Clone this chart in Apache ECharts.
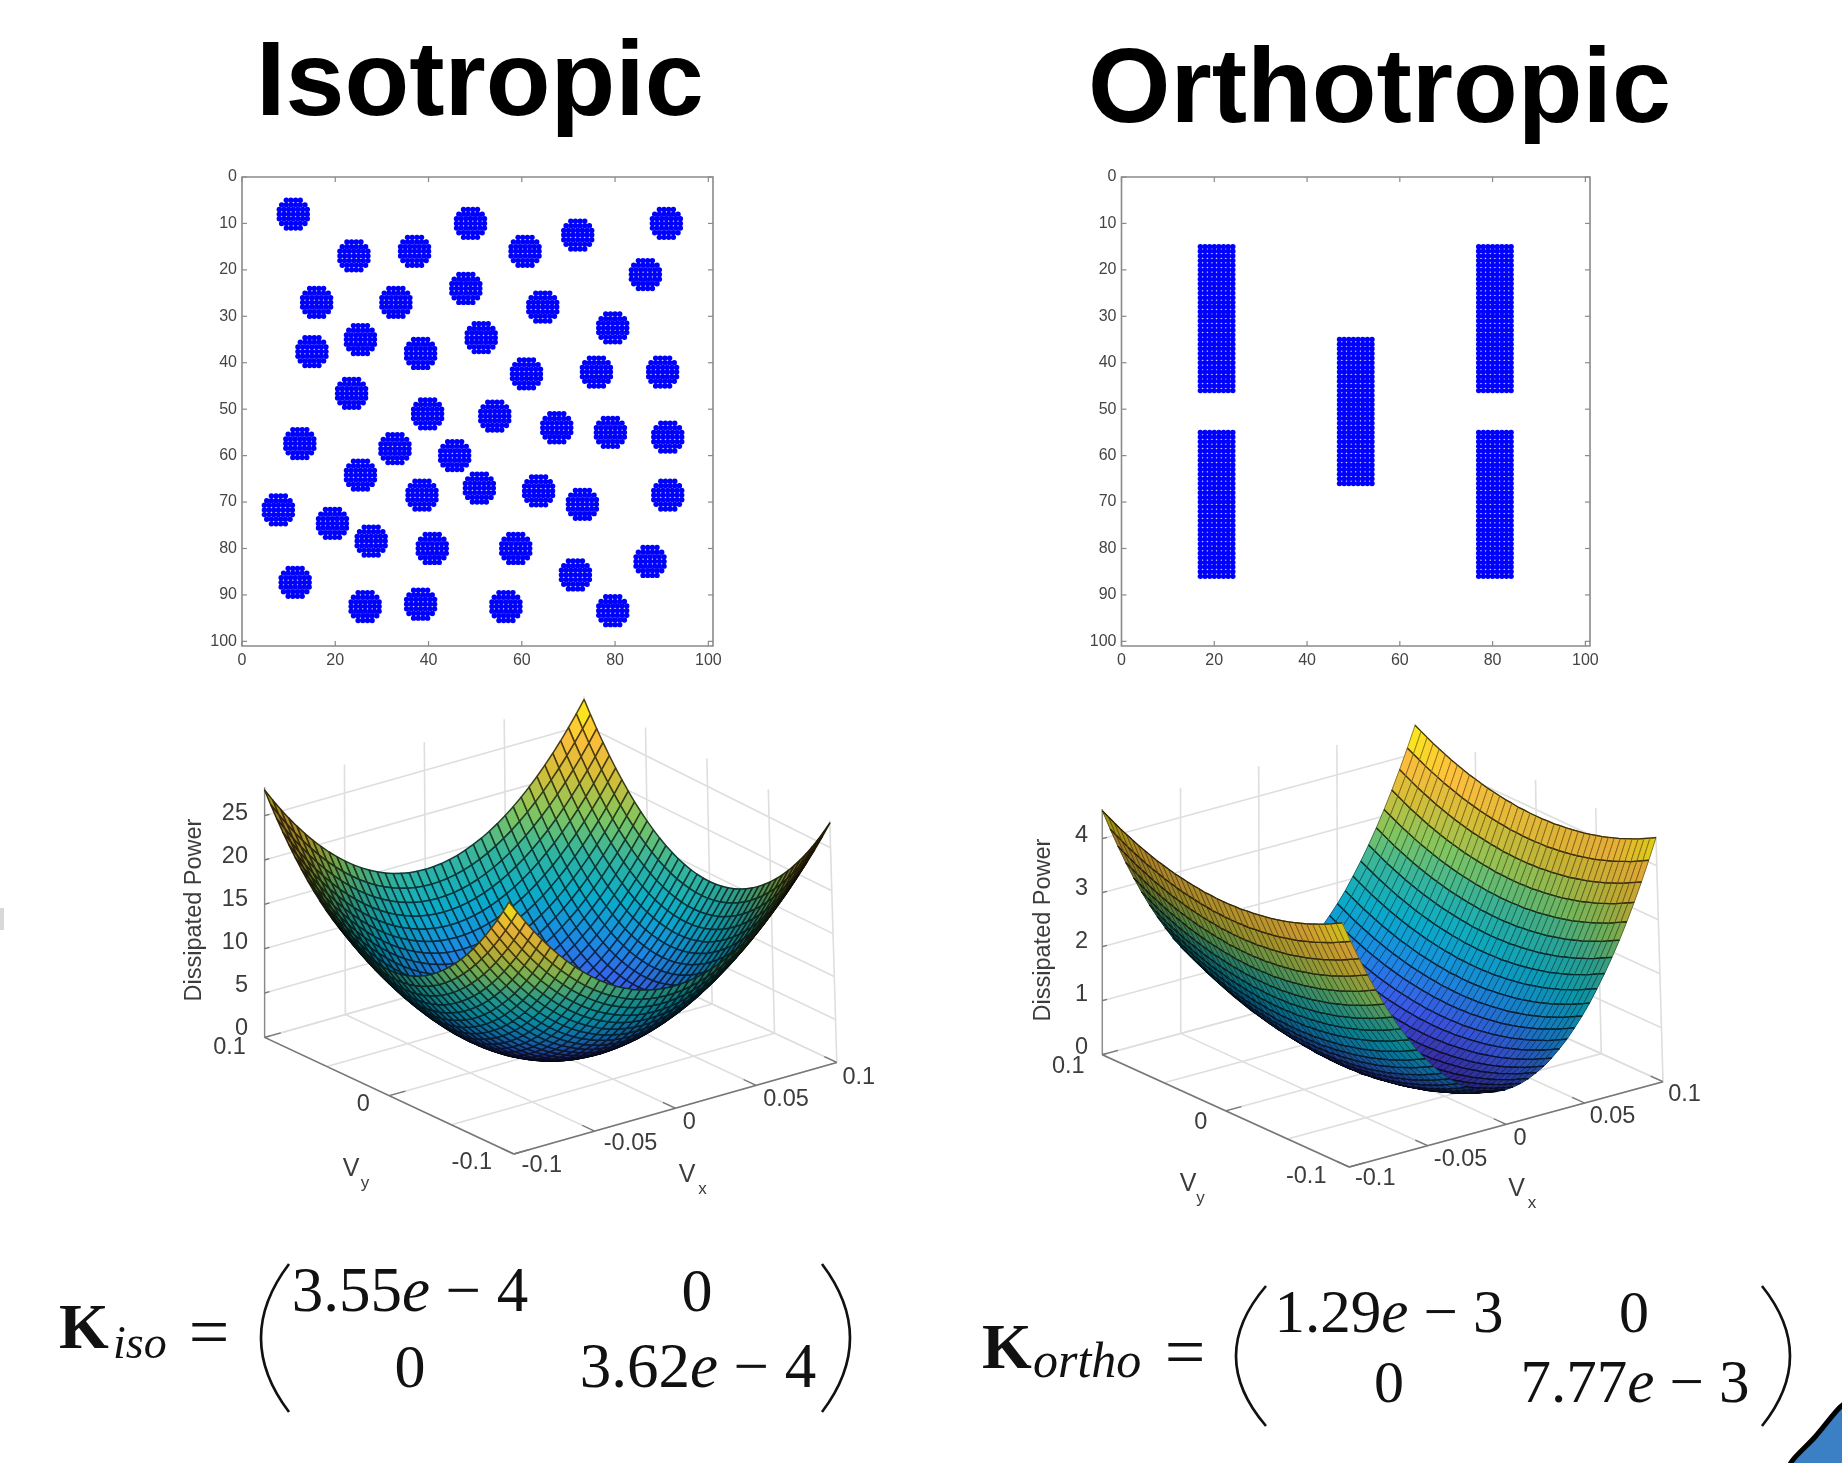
<!DOCTYPE html>
<html><head><meta charset="utf-8"><title>Isotropic vs Orthotropic</title>
<style>html,body{margin:0;padding:0;background:#fff;overflow:hidden}#chart{width:1842px;height:1463px;filter:blur(0.5px)}</style>
<script src="https://cdn.jsdelivr.net/npm/echarts@6/dist/echarts.min.js"></script>
</head><body><div id="chart"></div>
<script>
// ---------- data ----------
const topTitles = ['Isotropic', 'Orthotropic'];
const mapTicksX = [0, 20, 40, 60, 80, 100];
const mapTicksY = [0, 10, 20, 30, 40, 50, 60, 70, 80, 90, 100];
const isoInclusionCentres = [
  [11,8],[49,10],[72,12.5],[91,10],[24,17],[37,16],[60.7,16],[86.5,21],[16,27],[33,27],[48,24],[64.5,28],
  [79.5,32.5],[15,37.6],[25.4,35],[38.3,38],[51.3,34.6],[61,42.4],[76,42],[90.2,42],[23.5,46.6],[39.8,51],
  [54.2,51.5],[67.5,54],[79,55],[91.3,56],[12.4,57.4],[32.8,58.5],[45.6,60],[25.4,64.2],[50.9,67],[38.6,68.5],
  [63.6,67.6],[73,70.5],[91.3,68.5],[7.8,71.7],[19.4,74.6],[27.7,78.4],[40.8,80],[58.7,80],[87.5,82.8],
  [71.5,85.7],[11.4,87.3],[26.4,92.5],[38.3,92],[56.6,92.5],[79.5,93.4]
];
const inclusionRowHalfWidths = [1.5, 2.5, 3, 3, 3, 2.5, 1.5];
// [xFrom, xTo, yFrom, yTo]
const orthoInclusionBlocks = [
  [17,24,15,46],[17,24,55,86],[47,54,35,66],[77,84,15,46],[77,84,55,86]
];
// power contribution at |v| = 0, 0.005, ... 0.1
const speedSteps = [0,0.005,0.01,0.015,0.02,0.025,0.03,0.035,0.04,0.045,0.05,0.055,0.06,0.065,0.07,0.075,0.08,0.085,0.09,0.095,0.1];
const isoPowerVx = [0,0.04,0.14,0.32,0.56,0.88,1.27,1.72,2.25,2.85,3.52,4.26,5.07,5.95,6.90,7.92,9.01,10.17,11.40,12.71,14.08];
const isoPowerVy = [0,0.03,0.14,0.31,0.55,0.86,1.24,1.69,2.21,2.80,3.45,4.18,4.97,5.83,6.77,7.77,8.84,9.98,11.19,12.46,13.81];
const orthoPowerVx = [0,0.01,0.04,0.09,0.16,0.24,0.35,0.48,0.62,0.79,0.97,1.17,1.40,1.64,1.90,2.18,2.48,2.80,3.14,3.50,3.88];
const orthoPowerVy = [0,0.00,0.01,0.01,0.03,0.04,0.06,0.08,0.10,0.13,0.16,0.19,0.23,0.27,0.31,0.36,0.41,0.46,0.52,0.58,0.64];
const vxTicks = [-0.1,-0.05,0,0.05,0.1];
const vxTickLabels = ['-0.1','-0.05','0','0.05','0.1'];
const vyGridTicks = [-0.1,-0.05,0,0.05,0.1];
const vyTicks = [-0.1,0,0.1];
const vyTickLabels = ['-0.1','0','0.1'];
const isoPowerTicks = [0,5,10,15,20,25];
const orthoPowerTicks = [0,1,2,3,4];

// ---------- styling / layout ----------
const SANS = '"Liberation Sans", Arial, sans-serif';
const SERIF = '"Liberation Serif", "Times New Roman", serif';
const parulaStops = [[0,[62,38,168]],[.125,[60,90,235]],[.25,[25,140,225]],[.375,[10,172,200]],[.5,[50,180,160]],[.625,[128,198,95]],[.75,[212,190,55]],[.875,[253,190,60]],[1,[249,251,14]]];
const panels = [
  {L:[264.6,1037.4],F:[513.8,1154],R:[836.8,1062.4],zPx:8.87,zTop:28.2,powerVx:isoPowerVx,powerVy:isoPowerVy,zMax:27.9,zTicks:isoPowerTicks,
   topWarp:{F:[-4.7,-4.7],R:[-7,8],B:[-3.5,1]},zLabelOff:[-9,-2],
   weakMix:0.68,weakWidth:1.5,strongMix:0,labelRight:248,
   vxOff:[[28,12],[36,12],[14,14],[30,14],[22,15]],vyOff:[[-42,9],[-26,9],[-35,10]],
   ylabel:[195,910],vy:[[351,1169],[365,1183]],vx:[[687,1175],[702.5,1189]]},
  {L:[1102.3,1054.7],F:[1349.2,1167],R:[1663,1081.7],zPx:54,zTop:4.55,powerVx:orthoPowerVx,powerVy:orthoPowerVy,zMax:4.52,zTicks:orthoPowerTicks,
   topWarp:{F:[-7,0],R:[-7,0],B:[-1,0]},zLabelOff:[-7,-3],
   weakMix:0.4,weakWidth:1,strongMix:0.75,labelRight:1088,
   vxOff:[[26,12],[33,14],[14,14],[28,13],[21.5,13]],vyOff:[[-43,10],[-25,12],[-34,12]],
   ylabel:[1044,930],vy:[[1188,1184],[1200.5,1198]],vx:[[1516.5,1189],[1532,1203]]}
];
const OVERLAY_AXIS = 2;
const MAP_MAX = 101;

// ---------- helpers ----------
function parula(t){
  t=Math.max(0,Math.min(1,t));
  for(let k=1;k<parulaStops.length;k++){
    if(t<=parulaStops[k][0]){
      const [t0,c0]=parulaStops[k-1],[t1,c1]=parulaStops[k],f=(t-t0)/(t1-t0);
      return c0.map((c,n)=>c+(c1[n]-c)*f);
    }
  }
  return parulaStops[parulaStops.length-1][1];
}
const css=c=>`rgb(${c.map(v=>Math.round(Math.min(255,Math.max(0,v)))).join(',')})`;
const mesh=[...speedSteps.slice(1).reverse().map(v=>-v),...speedSteps];
const HALF=speedSteps.length-1;

function mapPoints(){
  const iso=[];
  isoInclusionCentres.forEach(([cx,cy])=>{
    inclusionRowHalfWidths.forEach((hw,r)=>{
      for(let dx=-hw;dx<=hw;dx++) iso.push([cx+dx,cy+r-3]);
    });
  });
  const ortho=[];
  orthoInclusionBlocks.forEach(([x0,x1,y0,y1])=>{
    for(let x=x0;x<=x1;x++)for(let y=y0;y<=y1;y++)ortho.push([x,y]);
  });
  return [iso,ortho];
}

function buildPanel(p){
  const ax=p.R[0]-p.F[0],ay=p.R[1]-p.F[1],bx=p.L[0]-p.F[0],by=p.L[1]-p.F[1];
  const len=Math.hypot(ax,bx),cosA=ax/len,sinA=-bx/len;
  const sinEl=(-ay-by)/((sinA+cosA)*len),cosEl=Math.sqrt(1-sinEl*sinEl);
  const view=[-sinA*cosEl,-cosA*cosEl,sinEl];
  const proj=(vx,vy,z)=>{
    const u=(vx+0.1)/0.2,w=(vy+0.1)/0.2,h=z/p.zMax;
    const warp=n=>h*((1-u)*(1-w)*p.topWarp.F[n]+u*(1-w)*p.topWarp.R[n]+u*w*p.topWarp.B[n]);
    return [p.F[0]+u*ax+w*bx+warp(0),p.F[1]+u*ay+w*by-z*p.zPx+warp(1)];
  };
  const world=(vx,vy,z)=>[(vx+0.1)/0.2*len,(vy+0.1)/0.2*len,z*p.zPx/cosEl];
  const power=(i,j)=>p.powerVx[Math.abs(i-HALF)]+p.powerVy[Math.abs(j-HALF)];

  // back walls, floor, axes
  const back=[],labels=[];
  const seg=(a,b,stroke,w)=>({t:'line',a,b,stroke,w});
  const wall='#dedede',axis='#777';
  vxTicks.forEach(v=>{
    back.push(seg(proj(v,-0.1,0),proj(v,0.1,0),wall,1.6));
    back.push(seg(proj(v,0.1,0),proj(v,0.1,p.zTop),wall,1.6));
  });
  vyGridTicks.forEach(v=>{
    back.push(seg(proj(-0.1,v,0),proj(0.1,v,0),wall,1.6));
    back.push(seg(proj(0.1,v,0),proj(0.1,v,p.zTop),wall,1.6));
  });
  p.zTicks.forEach(z=>{
    back.push(seg(proj(-0.1,0.1,z),proj(0.1,0.1,z),wall,1.6));
    back.push(seg(proj(0.1,0.1,z),proj(0.1,-0.1,z),wall,1.6));
  });
  back.push(seg(proj(-0.1,0.1,0),proj(-0.1,-0.1,0),axis,1.6));
  back.push(seg(proj(-0.1,-0.1,0),proj(0.1,-0.1,0),axis,1.6));
  back.push(seg(proj(-0.1,0.1,0),proj(-0.1,0.1,p.zTop),'#888',1.3));
  vxTicks.forEach(v=>back.push(seg(proj(v,-0.1,0),proj(v,-0.09,0),axis,1.3)));
  vyTicks.forEach(v=>back.push(seg(proj(-0.1,v,0),proj(-0.09,v,0),axis,1.3)));
  p.zTicks.forEach(z=>back.push(seg(proj(-0.1,0.1,z),proj(-0.097,0.1,z),axis,1.3)));

  // surface quads, far ones first
  const quads=[];
  for(let i=0;i<mesh.length-1;i++)for(let j=0;j<mesh.length-1;j++){
    const c=[[i,j],[i+1,j],[i+1,j+1],[i,j+1]].map(([a,b])=>({a,v:[mesh[a],mesh[b],power(a,b)]}));
    const W=c.map(o=>world(...o.v));
    const d1=W[2].map((x,n)=>x-W[0][n]),d2=W[3].map((x,n)=>x-W[1][n]);
    let nrm=[d1[1]*d2[2]-d1[2]*d2[1],d1[2]*d2[0]-d1[0]*d2[2],d1[0]*d2[1]-d1[1]*d2[0]];
    const nl=Math.hypot(...nrm);nrm=nrm.map(x=>x/nl);
    const facing=Math.abs(nrm[0]*view[0]+nrm[1]*view[1]+nrm[2]*view[2]);
    const zMean=c.reduce((s,o)=>s+o.v[2],0)/4;
    const shade=Math.min(1,0.1+1.05*Math.pow(facing,0.5));
    const base=parula(zMean/p.zMax).map(x=>x*shade);
    const depth=-W.reduce((s,q)=>s+q[0]*view[0]+q[1]*view[1]+q[2]*view[2],0);
    const pts=c.map(o=>proj(...o.v));
    const item={t:'quad',pts,fill:css(base),stroke:css(base.map(x=>x*(1-p.weakMix))),w:p.weakWidth,depth};
    if(p.strongMix){item.strong=css(base.map(x=>x*(1-p.strongMix)));}
    quads.push(item);
  }
  quads.sort((a,b)=>b.depth-a.depth);

  // tick labels and axis titles
  const txt=(text,x,y,size,align,rotation)=>({t:'text',text,x,y,size,align:align||'center',rotation:rotation||0});
  vxTicks.forEach((v,k)=>{const q=proj(v,-0.1,0);labels.push(txt(vxTickLabels[k],q[0]+p.vxOff[k][0],q[1]+p.vxOff[k][1],23.5));});
  vyTicks.forEach((v,k)=>{const q=proj(-0.1,v,0);labels.push(txt(vyTickLabels[k],q[0]+p.vyOff[k][0],q[1]+p.vyOff[k][1],23.5));});
  const topTick=p.zTicks[p.zTicks.length-1];
  p.zTicks.forEach(z=>{
    const q=proj(-0.1,0.1,z),off=p.zLabelOff[0]+(p.zLabelOff[1]-p.zLabelOff[0])*z/topTick;
    labels.push(txt(String(z),p.labelRight,q[1]+off,23.5,'right'));
  });
  labels.push(txt('Dissipated Power',p.ylabel[0],p.ylabel[1],23.5,'center',Math.PI/2));
  labels.push(txt('V',p.vy[0][0],p.vy[0][1],25));labels.push(txt('y',p.vy[1][0],p.vy[1][1],17));
  labels.push(txt('V',p.vx[0][0],p.vx[0][1],25));labels.push(txt('x',p.vx[1][0],p.vx[1][1],17));
  return {back,quads,labels};
}

function layer(name,items,z){
  return {type:'custom',name,coordinateSystem:'cartesian2d',xAxisIndex:OVERLAY_AXIS,yAxisIndex:OVERLAY_AXIS,z,silent:true,clip:false,animation:false,progressive:0,
    data:items.map((_,k)=>[k,0]),
    renderItem(params,api){
      const it=items[api.value(0)];
      const at=q=>api.coord(q);
      if(it.t==='line'){
        const a=at(it.a),b=at(it.b);
        return {type:'line',shape:{x1:a[0],y1:a[1],x2:b[0],y2:b[1]},style:{stroke:it.stroke,lineWidth:it.w}};
      }
      if(it.t==='quad'){
        const pts=it.pts.map(at);
        const poly={type:'polygon',shape:{points:pts},style:{fill:it.fill,stroke:it.stroke,lineWidth:it.w,lineJoin:'round'}};
        if(!it.strong)return poly;
        const l=(m,n)=>({type:'line',shape:{x1:pts[m][0],y1:pts[m][1],x2:pts[n][0],y2:pts[n][1]},style:{stroke:it.strong,lineWidth:1.3}});
        return {type:'group',children:[poly,l(0,3),l(1,2)]};
      }
      const q=at([it.x,it.y]);
      return {type:'text',x:q[0],y:q[1],rotation:it.rotation,style:{text:it.text,fill:'#3c3c3c',font:`${it.size}px ${SANS}`,textAlign:it.align,textVerticalAlign:'middle'}};
    }};
}

// ---------- options ----------
const mapGrids=[{left:242,top:177,width:471,height:469},{left:1121.5,top:177,width:468.5,height:469}];
const tickCol='#8a8a8a';
const grid=[...mapGrids.map(g=>({...g,show:true,borderColor:tickCol,borderWidth:1.6,backgroundColor:'#fff',containLabel:false})),{left:0,top:0,width:1842,height:1463}];
const xAxis=[],yAxis=[];
[0,1].forEach(g=>{
  xAxis.push({gridIndex:g,type:'value',position:'bottom',min:0,max:MAP_MAX,axisLine:{show:false},splitLine:{show:false},
    axisTick:{show:false},axisLabel:{customValues:mapTicksX,margin:7,fontSize:16,fontFamily:SANS,color:'#444'}});
  yAxis.push({gridIndex:g,type:'value',inverse:true,position:'left',min:0,max:MAP_MAX,axisLine:{show:false},splitLine:{show:false},
    axisTick:{show:false},axisLabel:{customValues:mapTicksY,margin:5,fontSize:16,fontFamily:SANS,color:'#444'}});
});
xAxis.push({gridIndex:2,type:'value',min:0,max:1842,show:false});
yAxis.push({gridIndex:2,type:'value',min:0,max:1463,inverse:true,show:false});

// inward tick marks on all four sides of a map
function mapTickMarks(g){
  const data=[...mapTicksX.flatMap(v=>[[v,0,0],[v,0,1]]),...mapTicksY.flatMap(v=>[[0,v,2],[0,v,3]])];
  return {type:'custom',xAxisIndex:g,yAxisIndex:g,coordinateSystem:'cartesian2d',silent:true,animation:false,z:2,data,
    renderItem(params,api){
      const x=api.value(0),y=api.value(1),side=api.value(2),L=5;
      let a,b;
      if(side===0){a=api.coord([x,MAP_MAX]);b=[a[0],a[1]-L];}
      else if(side===1){a=api.coord([x,0]);b=[a[0],a[1]+L];}
      else if(side===2){a=api.coord([0,y]);b=[a[0]+L,a[1]];}
      else{a=api.coord([MAP_MAX,y]);b=[a[0]-L,a[1]];}
      return {type:'line',shape:{x1:a[0],y1:a[1],x2:b[0],y2:b[1]},style:{stroke:tickCol,lineWidth:1.2}};
    }};
}

const [isoPts,orthoPts]=mapPoints();
const scatter=(data,g)=>({type:'scatter',data,xAxisIndex:g,yAxisIndex:g,symbol:'circle',symbolSize:5.4,
  itemStyle:{color:'#0000ff',opacity:1},silent:true,animation:false,large:false,progressive:0});
const series=[scatter(isoPts,0),scatter(orthoPts,1),mapTickMarks(0),mapTickMarks(1)];
panels.forEach((p,n)=>{
  const b=buildPanel(p);
  series.push(layer('walls'+n,b.back,2),layer('surface'+n,b.quads,3),layer('labels'+n,b.labels,4));
});

const fontEq=(s,extra)=>`${extra||''} ${s}px ${SERIF}`.trim();
const gText=(text,x,y,size,opts)=>Object.assign({type:'text',x,y,silent:true,z:10,style:Object.assign({text,font:fontEq(size,opts&&opts.font),fill:'#111',textAlign:(opts&&opts.align)||'left',textVerticalAlign:'middle'},opts&&opts.style)});
const eEntry=(before,after,x,y,s)=>gText(before+'{i|e} − '+after,x,y,s,{align:'center',style:{rich:{i:{font:fontEq(s,'italic')}}}});
const paren=(x,top,bot,cp)=>({type:'bezierCurve',silent:true,z:10,shape:{x1:x,y1:top,x2:x,y2:bot,cpx1:cp,cpy1:(top+bot)/2},style:{stroke:'#111',lineWidth:2.6,fill:null}});
const midY=(baseline,s)=>baseline-0.31*s;
const graphic=[
  gText('K',59,midY(1351,64),64,{font:'bold'}),gText('iso',113,midY(1360,46),46,{font:'italic'}),gText('=',209,1337,72,{align:'center'}),
  paren(289,1264,1412,233),paren(822,1264,1412,878),
  eEntry('3.55','4',410,midY(1314,63),63),gText('0',697,midY(1314,62),62,{align:'center'}),
  gText('0',410,midY(1389.5,62),62,{align:'center'}),eEntry('3.62','4',698,midY(1389.5,63),63),
  gText('K',982,midY(1371,64),64,{font:'bold'}),gText('ortho',1033,midY(1379,50),50,{font:'italic'}),gText('=',1185,1357,72,{align:'center'}),
  paren(1266,1286,1426,1206),paren(1762,1286,1426,1818),
  eEntry('1.29','3',1389,midY(1335,61),61),gText('0',1634,midY(1335,60),60,{align:'center'}),
  gText('0',1389,midY(1405,60),60,{align:'center'}),eEntry('7.77','3',1635,midY(1405,61),61),
  {type:'polygon',silent:true,z:10,shape:{points:[[1790,1470],[1815,1437],[1850,1403],[1850,1470]],smooth:0.4},style:{fill:'#3b7fc4',stroke:'#000',lineWidth:5}},
  {type:'rect',silent:true,z:10,shape:{x:0,y:908,width:4,height:22},style:{fill:'#d8d8d8'}}
];

const title=[
  {text:topTitles[0],left:256,top:33,padding:0,textStyle:{fontFamily:SANS,fontWeight:'bold',fontSize:106,color:'#000'}},
  {text:topTitles[1],left:1088,top:40,padding:0,textStyle:{fontFamily:SANS,fontWeight:'bold',fontSize:106,color:'#000'}}
];

const chart=echarts.init(document.getElementById('chart'));
chart.setOption({backgroundColor:'#fff',animation:false,title,grid,xAxis,yAxis,series,graphic,tooltip:{show:false}});
</script></body></html>
